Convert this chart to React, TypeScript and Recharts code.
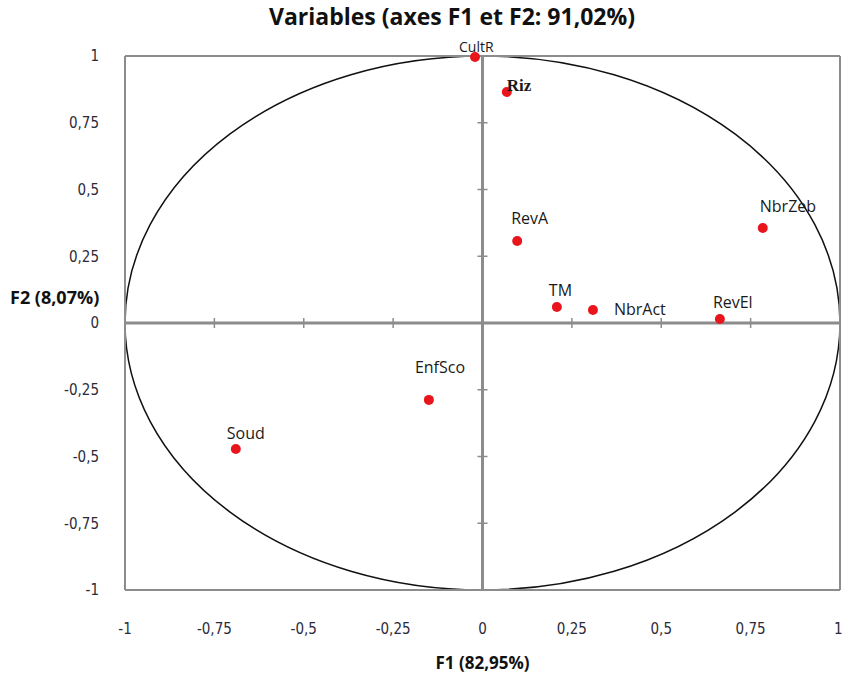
import {
  ScatterChart,
  Scatter,
  XAxis,
  YAxis,
  ReferenceLine,
  ReferenceArea,
  ReferenceDot,
} from "recharts";

const variables = ["CultR", "Riz", "RevA", "NbrZeb", "TM", "NbrAct", "RevEl", "EnfSco", "Soud"];
const f1Values = [-0.021, 0.068, 0.097, 0.784, 0.208, 0.309, 0.664, -0.15, -0.69];
const f2Values = [0.996, 0.865, 0.307, 0.356, 0.06, 0.049, 0.015, -0.288, -0.472];
const axisTicks = [-1, -0.75, -0.5, -0.25, 0, 0.25, 0.5, 0.75, 1];

const points = variables.map((name, i) => ({ name, x: f1Values[i], y: f2Values[i] }));

// label placement relative to the dot (px)
const labelOffset: Record<string, [number, number]> = {
  CultR: [-16, -5],
  Riz: [0, -1],
  RevA: [-6, -17],
  NbrZeb: [-3, -16],
  TM: [-8, -11],
  NbrAct: [21, 5],
  RevEl: [-7, -11],
  EnfSco: [-14, -27],
  Soud: [-9, -10],
};

const fmt = (v: number) => String(v).replace(".", ",");
const GRAY = "#8c8c8c";
const TICK_FONT = "'DejaVu Sans Condensed', 'Liberation Sans Narrow', sans-serif";

function PointShape(props: any) {
  const { cx, cy, payload } = props;
  const [dx, dy] = labelOffset[payload.name] || [0, -12];
  const serif = payload.name === "Riz";
  const isTop = payload.name === "CultR";
  return (
    <g>
      <circle cx={cx} cy={cy} r={5} fill="#e8161c" />
      <text
        x={cx + dx}
        y={cy + dy}
        fontSize={serif ? 17 : isTop ? 14 : 16}
        fontWeight={serif ? 700 : 400}
        fontFamily={serif ? "'Liberation Serif', serif" : "'Open Sans', sans-serif"}
        fill="#1a1a1a"
      >
        {payload.name}
      </text>
    </g>
  );
}

function CircleShape(props: any) {
  const { x, y, width, height } = props;
  return (
    <ellipse
      cx={x + width / 2}
      cy={y + height / 2}
      rx={width / 2}
      ry={height / 2}
      fill="none"
      stroke="#111"
      strokeWidth={1.5}
    />
  );
}

export default function App() {
  return (
    <div style={{ position: "absolute", left: 0, top: 0, width: 842, height: 675, background: "#fff" }}>
      <div
        style={{
          position: "absolute",
          left: 0,
          width: 904,
          top: 1,
          lineHeight: "30px",
          textAlign: "center",
          fontFamily: "'Open Sans', sans-serif",
          fontWeight: 700,
          fontSize: 23,
          color: "#111",
        }}
      >
        Variables (axes F1 et F2: 91,02%)
      </div>
      <ScatterChart width={842} height={675} margin={{ top: 56, right: 2, bottom: 0, left: 0 }}>
        <XAxis
          type="number"
          dataKey="x"
          domain={[-1, 1]}
          ticks={axisTicks}
          tickFormatter={fmt}
          height={85}
          tickLine={false}
          tickSize={0}
          tickMargin={33}
          axisLine={{ stroke: GRAY, strokeWidth: 2 }}
          tick={{ fill: "#2b2b3a", fontSize: 15, fontFamily: TICK_FONT }}
          label={{
            value: "F1 (82,95%)",
            position: "insideBottom",
            offset: 6,
            style: { fontWeight: 700, fontSize: 17, fill: "#111", fontFamily: "'Open Sans', sans-serif" },
          }}
        />
        <YAxis
          type="number"
          dataKey="y"
          domain={[-1, 1]}
          ticks={axisTicks}
          tickFormatter={fmt}
          width={125}
          tickLine={false}
          tickSize={0}
          tickMargin={26}
          axisLine={{ stroke: GRAY, strokeWidth: 2 }}
          tick={{ fill: "#2b2b3a", fontSize: 15, fontFamily: TICK_FONT }}
          label={{
            value: "F2 (8,07%)",
            position: "insideLeft",
            offset: 10,
            dy: -25,
            style: { fontWeight: 700, fontSize: 18, fill: "#111", fontFamily: "'Open Sans', sans-serif", textAnchor: "start" },
          }}
        />
        <ReferenceLine y={1} stroke={GRAY} strokeWidth={2} />
        <ReferenceLine x={1} stroke={GRAY} strokeWidth={2} />
        <ReferenceLine x={0} stroke={GRAY} strokeWidth={3} />
        <ReferenceLine y={0} stroke={GRAY} strokeWidth={3} />
        {axisTicks.map((t) => (
          <ReferenceDot
            key={"xt" + t}
            x={t}
            y={0}
            shape={(p: any) => (
              <line x1={p.cx} x2={p.cx} y1={p.cy - 5} y2={p.cy + 5} stroke={GRAY} strokeWidth={1.5} />
            )}
          />
        ))}
        {axisTicks.map((t) => (
          <ReferenceDot
            key={"yt" + t}
            x={0}
            y={t}
            shape={(p: any) => (
              <line x1={p.cx - 5} x2={p.cx + 5} y1={p.cy} y2={p.cy} stroke={GRAY} strokeWidth={1.5} />
            )}
          />
        ))}
        <ReferenceArea x1={-1} x2={1} y1={-1} y2={1} shape={CircleShape} />
        <Scatter data={points} shape={PointShape} isAnimationActive={false} />
      </ScatterChart>
    </div>
  );
}
